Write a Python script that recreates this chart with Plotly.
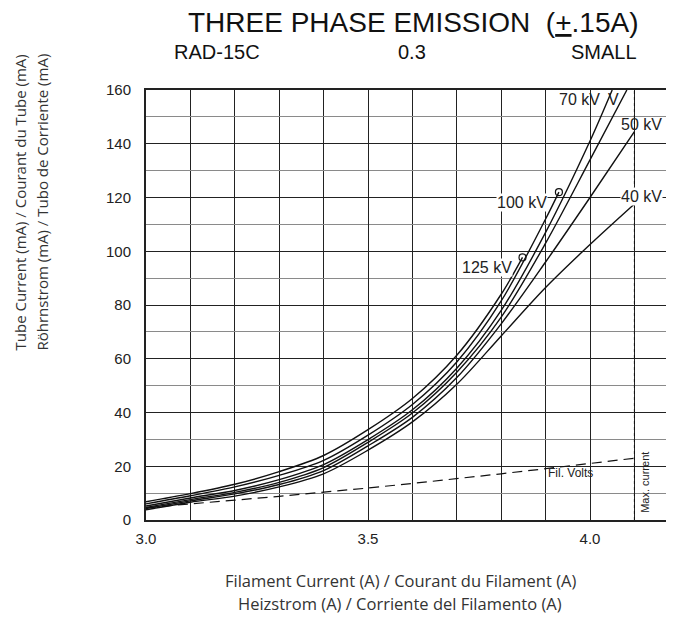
import plotly.graph_objects as go

# ---------------- data ----------------
kv125_x = [3.0, 3.1, 3.2, 3.3, 3.4, 3.5, 3.6, 3.7, 3.8, 3.848]
kv125_y = [6.8, 9.8, 13.3, 18.0, 24.0, 33.6, 45.2, 61.3, 84.0, 97.7]

kv100_x = [3.0, 3.1, 3.2, 3.3, 3.4, 3.5, 3.6, 3.7, 3.8, 3.9, 3.93]
kv100_y = [6.0, 9.0, 12.3, 16.6, 22.2, 31.6, 43.0, 58.8, 81.5, 112.0, 122.0]

kv70_x = [3.0, 3.1, 3.2, 3.3, 3.4, 3.5, 3.6, 3.7, 3.8, 3.9, 4.0, 4.05]
kv70_y = [5.2, 8.2, 11.0, 15.0, 20.6, 29.9, 41.0, 56.5, 78.0, 107.0, 141.0, 160.0]

kv60_x = [3.0, 3.1, 3.2, 3.3, 3.4, 3.5, 3.6, 3.7, 3.8, 3.9, 4.0, 4.083]
kv60_y = [4.7, 7.6, 10.3, 14.0, 19.5, 28.9, 39.8, 55.0, 75.5, 103.0, 134.0, 160.0]

kv50_x = [3.0, 3.1, 3.2, 3.3, 3.4, 3.5, 3.6, 3.7, 3.8, 3.9, 4.0, 4.1]
kv50_y = [4.3, 7.1, 9.7, 13.2, 18.4, 27.6, 38.2, 53.0, 73.0, 96.0, 120.0, 144.5]

kv40_x = [3.0, 3.1, 3.2, 3.3, 3.4, 3.5, 3.6, 3.7, 3.8, 3.9, 4.0, 4.1]
kv40_y = [3.8, 6.6, 8.9, 12.3, 17.2, 26.0, 36.5, 50.5, 68.5, 86.5, 102.5, 117.6]

fil_volts_x = [3.0, 3.1, 3.2, 3.3, 3.4, 3.5, 3.6, 3.7, 3.8, 3.9, 4.0, 4.1]
fil_volts_y = [4.6, 6.1, 7.4, 8.8, 10.3, 11.9, 13.6, 15.3, 17.2, 19.1, 21.0, 23.0]

max_current = 4.1
end_markers_x = [3.848, 3.93]
end_markers_y = [97.7, 122.0]

x_tick_vals = [3.0, 3.5, 4.0]
x_tick_text = ["3.0", "3.5", "4.0"]
y_tick_vals = [0, 20, 40, 60, 80, 100, 120, 140, 160]

# ---------------- layout geometry (screen pixels of the reference) ----------------
OFF = 8                       # default page margin around the plot div
SCR_W, SCR_H = 674, 617
W, H = SCR_W - OFF, SCR_H - OFF
L, T = 146 - OFF, 90 - OFF     # plot area left/top in figure pixels
PW = W - L                     # plot reaches the right edge of the window
PH = 430
B = H - T - PH


def px(xs):  # screen x -> paper x
    return (xs - OFF - L) / PW


def py(ys):  # screen y -> paper y
    return (T + PH - (ys - OFF)) / PH


fig = go.Figure()
curve_style = dict(color="#111111", width=1.4, shape="spline", smoothing=0.9)
for xs, ys in [(kv125_x, kv125_y), (kv100_x, kv100_y), (kv70_x, kv70_y),
               (kv60_x, kv60_y), (kv50_x, kv50_y), (kv40_x, kv40_y)]:
    fig.add_trace(go.Scatter(x=xs, y=ys, mode="lines", line=curve_style,
                             hoverinfo="skip", showlegend=False))

fig.add_trace(go.Scatter(x=fil_volts_x, y=fil_volts_y, mode="lines",
                         line=dict(color="#111111", width=1.2, dash="10px,6px"),
                         showlegend=False, hoverinfo="skip"))

fig.add_trace(go.Scatter(x=[max_current, max_current], y=[0, 160], mode="lines",
                         line=dict(color="#111111", width=1, dash="3px,3px"),
                         showlegend=False, hoverinfo="skip"))

fig.add_trace(go.Scatter(x=end_markers_x, y=end_markers_y, mode="markers",
                         marker=dict(symbol="circle-open", size=7, color="#111111",
                                     line=dict(width=1.2)),
                         showlegend=False, hoverinfo="skip"))

arial = "Liberation Sans, Arial"
tick_font = dict(family=arial, size=15, color="#222222")
fig.update_xaxes(range=[3.0, 3.0 + PW / 444.0], tickvals=x_tick_vals, ticktext=x_tick_text,
                 showgrid=True, gridcolor="#222222", gridwidth=1,
                 minor=dict(dtick=0.1, tick0=3.0, showgrid=True, gridcolor="#222222", gridwidth=1),
                 showline=True, linecolor="#222222", linewidth=2, mirror=True,
                 zeroline=False, ticks="", tickfont=tick_font, ticklabelstandoff=4)
fig.update_yaxes(range=[0, 160], tickvals=y_tick_vals,
                 showgrid=True, gridcolor="#222222", gridwidth=1,
                 minor=dict(dtick=10, tick0=0, showgrid=True, gridcolor="#8a8a8a", gridwidth=1.4),
                 showline=True, linecolor="#222222", linewidth=2,
                 zeroline=False, ticks="", tickfont=tick_font, ticklabelstandoff=10)

ann = []


def paper_text(text, xs, ys, font, angle=0):
    ann.append(dict(xref="paper", yref="paper", x=px(xs), y=py(ys), text=text,
                    showarrow=False, xanchor="center", yanchor="middle",
                    textangle=angle, font=font))


paper_text("THREE PHASE EMISSION\u00a0\u00a0(<u>+</u>.15A)", 413, 22,
           dict(family=arial, size=28, color="#111111"))
for txt, xc in [("RAD-15C", 217), ("0.3", 412), ("SMALL", 604)]:
    paper_text(txt, xc, 52, dict(family=arial, size=20, color="#111111"))

lab_font = dict(family=arial, size=16, color="#222222")


def data_text(text, x, y, font, bg=None, angle=0):
    d = dict(x=x, y=y, text=text, showarrow=False, xanchor="center", yanchor="middle",
             font=font, textangle=angle)
    if bg:
        d.update(bgcolor=bg, borderpad=0)
    ann.append(d)


data_text("125 kV", 3.767, 94, lab_font, bg="white")
data_text("100 kV", 3.846, 118.1, lab_font, bg="white")
data_text("70 kV", 3.977, 156.3, lab_font)
data_text("V", 4.054, 156.3, lab_font)
data_text("50 kV", 4.116, 147, lab_font)
data_text("40 kV", 4.117, 120.3, lab_font, bg="white")
data_text("Fil. Volts", 3.955, 17.5, dict(family=arial, size=12, color="#222222"))
data_text("Max. current", 4.122, 13.9, dict(family=arial, size=11, color="#222222"), angle=-90)

y_title_font = dict(family="Open Sans", size=15, color="#333333")
x_title_font = dict(family="Open Sans", size=16.5, color="#333333")
paper_text("Tube Current (mA) / Courant du Tube (mA)", 19, 202.5, y_title_font, angle=-90)
paper_text("Röhrnstrom (mA) / Tubo de Corriente (mA)", 41, 202.5, y_title_font, angle=-90)
paper_text("Filament Current (A) / Courant du Filament (A)", 400, 580, x_title_font)
paper_text("Heizstrom (A) / Corriente del Filamento (A)", 400, 603, x_title_font)

fig.update_layout(width=W, height=H, margin=dict(l=L, r=0, t=T, b=B),
                  paper_bgcolor="white", plot_bgcolor="white",
                  showlegend=False, annotations=ann)

fig.write_html("out.html")
